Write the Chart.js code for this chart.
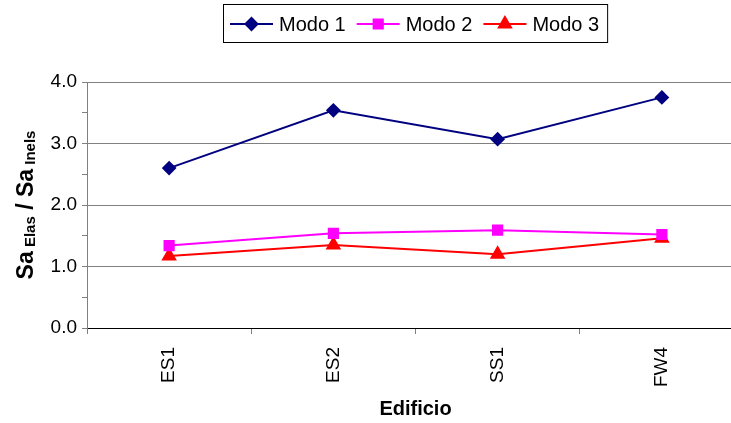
<!DOCTYPE html>
<html>
<head>
<meta charset="utf-8">
<script src="https://cdn.jsdelivr.net/npm/chart.js@4.4.1/dist/chart.umd.min.js"></script>
<style>
  html, body { margin: 0; padding: 0; background: #fff; overflow: hidden; }
  #wrap { width: 731px; height: 423px; overflow: hidden; }
</style>
</head>
<body>
<div id="wrap"><canvas id="chart" width="753" height="423"></canvas></div>
<script>
// data
var edificios = ['ES1', 'ES2', 'SS1', 'FW4'];
var modo1 = [2.60, 3.54, 3.07, 3.75];
var modo2 = [1.34, 1.54, 1.59, 1.52];
var modo3 = [1.17, 1.35, 1.20, 1.46];
var yMin = 0, yMax = 4, yStep = 0.5;

var FONT = 'Arial, "Liberation Sans", sans-serif';

// legend box with line + marker samples, like the spreadsheet one
var boxLegend = {
  id: 'boxLegend',
  afterDraw: function(chart) {
    var ctx = chart.ctx;
    ctx.save();
    ctx.font = '20px ' + FONT;
    var x = 230, y = 24;
    var left = 223, top = 4;
    var right = x;
    chart.data.datasets.forEach(function(ds) {
      ctx.strokeStyle = ds.borderColor;
      ctx.lineWidth = 2;
      ctx.beginPath();
      ctx.moveTo(x, y);
      ctx.lineTo(x + 43, y);
      ctx.stroke();
      ctx.fillStyle = ds.pointBackgroundColor;
      ctx.strokeStyle = ds.pointBorderColor;
      Chart.helpers.drawPoint(ctx, {pointStyle: ds.pointStyle, radius: ds.pointRadius, rotation: 0, borderWidth: 1}, x + 21.5, y);
      ctx.fillStyle = '#000';
      ctx.textBaseline = 'middle';
      ctx.textAlign = 'left';
      ctx.fillText(ds.label, x + 49, y + 1);
      right = x + 49 + ctx.measureText(ds.label).width;
      x = right + 11;
    });
    ctx.strokeStyle = '#000';
    ctx.lineWidth = 1;
    ctx.strokeRect(left + 0.5, top + 0.5, right + 8 - left, 38);
    ctx.restore();
  }
};

// rotated y title with subscripts: Sa Elas / Sa Inels
var yTitle = {
  id: 'yTitle',
  afterDraw: function(chart) {
    var ctx = chart.ctx;
    var parts = [
      ['Sa', 'bold 23px ' + FONT, 0],
      [' Elas', 'bold 15px ' + FONT, 2],
      [' / Sa', 'bold 23px ' + FONT, 0],
      [' Inels', 'bold 15px ' + FONT, 2]
    ];
    ctx.save();
    var total = 0;
    parts.forEach(function(p) { ctx.font = p[1]; total += ctx.measureText(p[0]).width; });
    var cy = (chart.chartArea.top + chart.chartArea.bottom) / 2;
    ctx.translate(33, cy);
    ctx.rotate(-Math.PI / 2);
    ctx.fillStyle = '#000';
    ctx.textBaseline = 'alphabetic';
    ctx.textAlign = 'left';
    var px = -total / 2;
    parts.forEach(function(p) {
      ctx.font = p[1];
      ctx.fillText(p[0], px, p[2]);
      px += ctx.measureText(p[0]).width;
    });
    ctx.restore();
  }
};

var ctx = document.getElementById('chart');

var chartdata = {
  labels: edificios,
  datasets: [
    {
      label: 'Modo 1',
      data: modo1,
      borderColor: '#000080',
      backgroundColor: '#000080',
      pointBackgroundColor: '#000080',
      pointBorderColor: '#000080',
      pointStyle: 'rectRot',
      pointRadius: 6,
      borderWidth: 2
    },
    {
      label: 'Modo 2',
      data: modo2,
      borderColor: '#ff00ff',
      backgroundColor: '#ff00ff',
      pointBackgroundColor: '#ff00ff',
      pointBorderColor: '#ff00ff',
      pointStyle: 'rect',
      pointRadius: 6.5,
      borderWidth: 2
    },
    {
      label: 'Modo 3',
      data: modo3,
      borderColor: '#ff0000',
      backgroundColor: '#ff0000',
      pointBackgroundColor: '#ff0000',
      pointBorderColor: '#ff0000',
      pointStyle: 'triangle',
      pointRadius: 7,
      borderWidth: 2
    }
  ]
};

var lineGraph = new Chart(ctx, {
  type: 'line',
  data: chartdata,
  plugins: [boxLegend, yTitle],
  options: {
    responsive: false,
    animation: false,
    events: [],
    layout: { padding: { top: 82, right: 2, left: 0, bottom: 0 } },
    plugins: {
      legend: { display: false },
      tooltip: { enabled: false }
    },
    elements: { line: { tension: 0 } },
    scales: {
      x: {
        offset: true,
        afterFit: function(scale) { scale.height = 95; },
        grid: {
          offset: true,
          drawOnChartArea: false,
          tickLength: 6,
          tickColor: '#808080'
        },
        border: { color: '#000', width: 1 },
        ticks: {
          minRotation: 90,
          maxRotation: 90,
          padding: 13,
          color: '#000',
          font: { family: FONT, size: 19 }
        },
        title: {
          display: true,
          text: 'Edificio',
          color: '#000',
          padding: { top: 0, bottom: 2 },
          font: { family: FONT, size: 20, weight: 'bold' }
        }
      },
      y: {
        min: yMin,
        max: yMax,
        afterFit: function(scale) { scale.width = 87; },
        grid: {
          tickLength: 5,
          color: function(c) {
            var v = c.tick.value;
            if (v % 1 !== 0 || v === 0) return 'rgba(0,0,0,0)';
            return '#808080';
          },
          tickColor: '#808080'
        },
        border: { color: '#808080', width: 1 },
        ticks: {
          stepSize: yStep,
          padding: 5,
          color: '#000',
          font: { family: FONT, size: 19 },
          callback: function(v) { return v % 1 === 0 ? v.toFixed(1) : ''; }
        }
      }
    }
  }
});
</script>
</body>
</html>
